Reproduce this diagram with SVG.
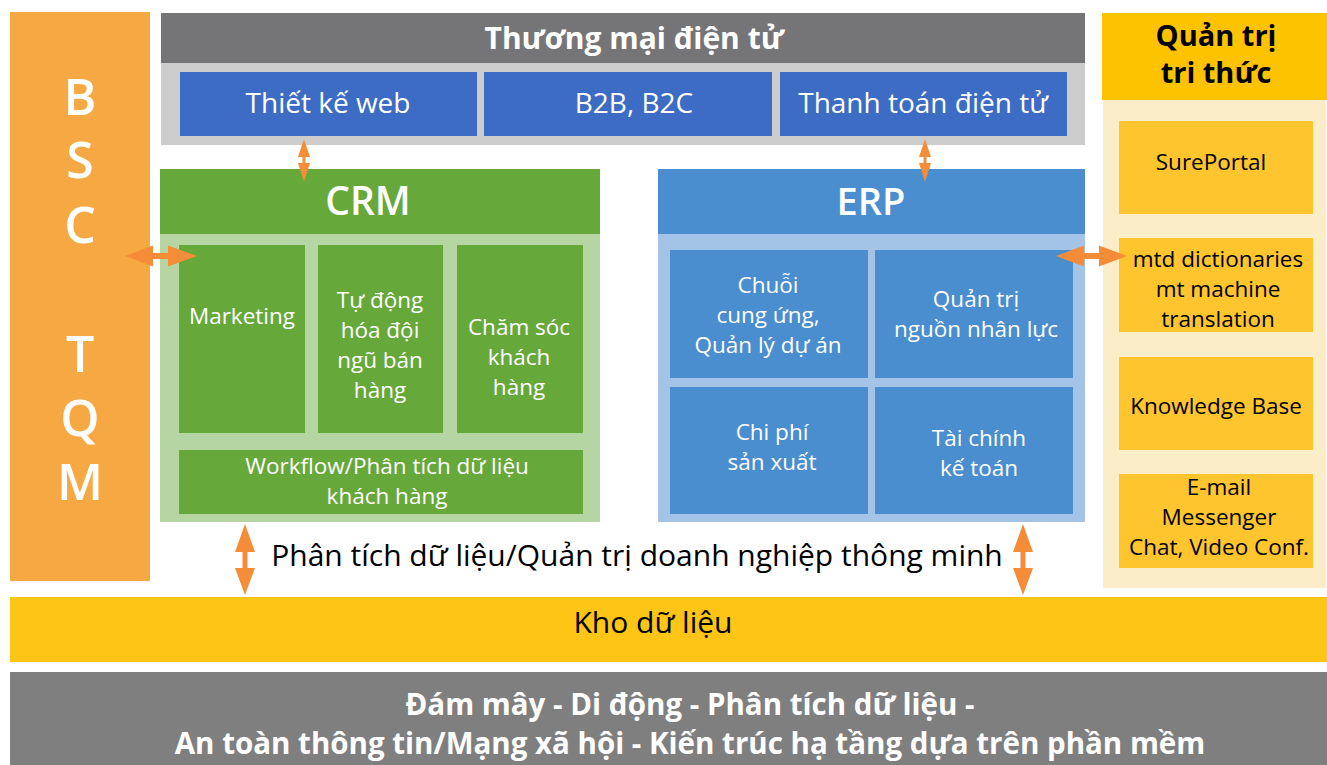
<svg xmlns="http://www.w3.org/2000/svg" width="1327" height="765" viewBox="0 0 1327 765">
<style>
text{font-family:"Open Sans","Noto Sans","DejaVu Sans",sans-serif;text-anchor:middle}
.w{fill:#FFFFFF}
.k{fill:#000000}
.b{font-weight:700}
.sb{font-weight:600}
.t22{font-size:22.5px}
.t22r{font-size:22.5px}
.t26{font-size:28px}
.t28{font-size:30px}
.arr{fill:#F58C38}
</style>
<rect width="1327" height="765" fill="#FFFFFF"/>
<g id="bsc">
<rect x="10" y="12" width="140" height="569" fill="#F6A942"/>
<g class="w sb" style="font-size:50px">
<text x="80" y="115">B</text>
<text x="80" y="178">S</text>
<text x="80" y="243">C</text>
<text x="80" y="372">T</text>
<text x="80" y="436">Q</text>
<text x="80" y="500">M</text>
</g>
</g>
<g id="ecommerce">
<rect x="161" y="13" width="924" height="50" fill="#757577"/>
<rect x="161" y="63" width="924" height="82" fill="#CCCCCC"/>
<text class="w b t28" x="634" y="49">Thương mại điện tử</text>
</g>
<g id="web">
<rect x="180" y="72" width="297" height="64" fill="#3C6CC4"/>
<text class="w t26" x="328" y="113">Thiết kế web</text>
</g>
<g id="b2b">
<rect x="484" y="72" width="288" height="64" fill="#3C6CC4"/>
<text class="w t26" x="634" y="113">B2B, B2C</text>
</g>
<g id="payment">
<rect x="780" y="72" width="287" height="64" fill="#3C6CC4"/>
<text class="w t26" x="923" y="113">Thanh toán điện tử</text>
</g>
<g id="crm">
<rect x="160" y="169" width="440" height="65" fill="#67A83B"/>
<rect x="160" y="234" width="440" height="288" fill="#B5D6A3"/>
<text class="w sb" style="font-size:39px" x="368" y="215">CRM</text>
</g>
<g id="marketing">
<rect x="179" y="245" width="126" height="188" fill="#67A83B"/>
<text class="w t22" x="242" y="324">Marketing</text>
</g>
<g id="sales">
<rect x="318" y="245" width="125" height="188" fill="#67A83B"/>
<text class="w t22" x="380"><tspan x="380" y="308">Tự động</tspan><tspan x="380" y="338">hóa đội</tspan><tspan x="380" y="368">ngũ bán</tspan><tspan x="380" y="398">hàng</tspan></text>
</g>
<g id="care">
<rect x="457" y="245" width="126" height="188" fill="#67A83B"/>
<text class="w t22" x="519"><tspan x="519" y="335">Chăm sóc</tspan><tspan x="519" y="365">khách</tspan><tspan x="519" y="395">hàng</tspan></text>
</g>
<g id="workflow">
<rect x="179" y="450" width="404" height="64" fill="#67A83B"/>
<text class="w t22" x="387"><tspan x="387" y="474">Workflow/Phân tích dữ liệu</tspan><tspan x="387" y="504">khách hàng</tspan></text>
</g>
<g id="erp">
<rect x="658" y="169" width="427" height="65" fill="#4A8ECF"/>
<rect x="658" y="234" width="427" height="288" fill="#A3C4E6"/>
<text class="w sb" style="font-size:38px" x="871" y="215">ERP</text>
</g>
<g id="supply">
<rect x="670" y="250" width="198" height="128" fill="#4A8ECF"/>
<text class="w t22" x="768"><tspan x="768" y="293">Chuỗi</tspan><tspan x="768" y="323">cung ứng,</tspan><tspan x="768" y="353">Quản lý dự án</tspan></text>
</g>
<g id="hr">
<rect x="875" y="250" width="198" height="128" fill="#4A8ECF"/>
<text class="w t22" x="976"><tspan x="976" y="307">Quản trị</tspan><tspan x="976" y="337">nguồn nhân lực</tspan></text>
</g>
<g id="cost">
<rect x="670" y="387" width="198" height="127" fill="#4A8ECF"/>
<text class="w t22" x="772"><tspan x="772" y="440">Chi phí</tspan><tspan x="772" y="470">sản xuất</tspan></text>
</g>
<g id="finance">
<rect x="875" y="387" width="198" height="127" fill="#4A8ECF"/>
<text class="w t22" x="979"><tspan x="979" y="446">Tài chính</tspan><tspan x="979" y="476">kế toán</tspan></text>
</g>
<g id="km">
<rect x="1102" y="13" width="225" height="87" fill="#FEC300"/>
<rect x="1103" y="100" width="223" height="488" fill="#FBEDC7"/>
<text class="k b" style="font-size:29px" x="1216"><tspan x="1216" y="46">Quản trị</tspan><tspan x="1216" y="83">tri thức</tspan></text>
</g>
<g id="sureportal">
<rect x="1119" y="121" width="194" height="93" fill="#FEC52F"/>
<text class="k t22r" x="1211" y="170">SurePortal</text>
</g>
<g id="mtd">
<rect x="1119" y="238" width="194" height="94" fill="#FEC52F"/>
<text class="k t22r" x="1218"><tspan x="1218" y="267">mtd dictionaries</tspan><tspan x="1218" y="297">mt machine</tspan><tspan x="1218" y="327">translation</tspan></text>
</g>
<g id="kb">
<rect x="1119" y="357" width="194" height="93" fill="#FEC52F"/>
<text class="k t22r" x="1216" y="414">Knowledge Base</text>
</g>
<g id="email">
<rect x="1119" y="474" width="194" height="94" fill="#FEC52F"/>
<text class="k t22r" x="1219"><tspan x="1219" y="495">E-mail</tspan><tspan x="1219" y="525">Messenger</tspan><tspan x="1219" y="555">Chat, Video  Conf.</tspan></text>
</g>
<g id="bi-label">
<text class="k t28" x="637" y="566">Phân tích dữ liệu/Quản trị doanh nghiệp thông minh</text>
</g>
<g id="warehouse">
<rect x="10" y="597" width="1317" height="65" fill="#FDC516"/>
<text class="k t28" x="653" y="633">Kho dữ liệu</text>
</g>
<g id="infra">
<rect x="10" y="672" width="1317" height="93" fill="#7F7F7F"/>
<text class="w b" style="font-size:29.5px" x="690"><tspan x="690" y="715">Đám mây - Di động - Phân tích dữ liệu -</tspan><tspan x="690" y="754">An toàn thông tin/Mạng xã hội - Kiến trúc hạ tầng dựa trên phần mềm</tspan></text>
</g>
<g id="connectors" class="arr">
<polygon points="304,139 310,157 305.5,157 305.5,163 310,163 304,182 298,163 302.5,163 302.5,157 298,157"/>
<polygon points="925,139 931,157 926.5,157 926.5,163 931,163 925,182 919,163 923.5,163 923.5,157 919,157"/>
<polygon points="125,256 153,245.5 153,253 168,253 168,245.5 197,256 168,266.5 168,259 153,259 153,266.5"/>
<polygon points="1056,256 1084,245.5 1084,253 1099,253 1099,245.5 1127,256 1099,266.5 1099,259 1084,259 1084,266.5"/>
<polygon points="245,524 255,552 247.5,552 247.5,568 255,568 245,595 235,568 242.5,568 242.5,552 235,552"/>
<polygon points="1023,524 1033,552 1025.5,552 1025.5,568 1033,568 1023,595 1013,568 1020.5,568 1020.5,552 1013,552"/>
</g>
</svg>
